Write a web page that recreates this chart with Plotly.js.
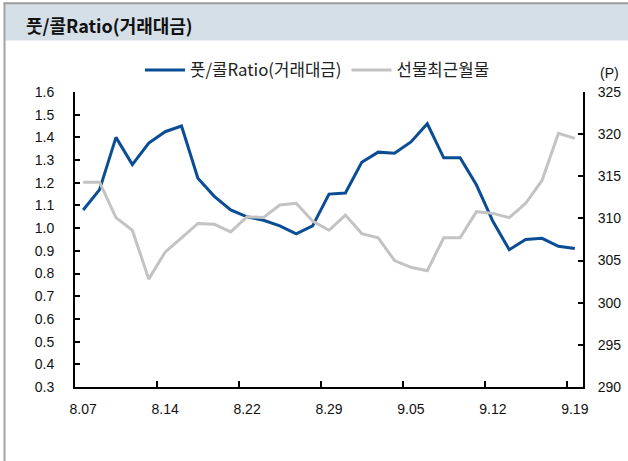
<!DOCTYPE html>
<html>
<head>
<meta charset="utf-8">
<script src="https://cdn.plot.ly/plotly-3.0.1.min.js"></script>
<style>
html,body{margin:0;padding:0;background:#fff;}
#chart{width:628px;height:461px;}
</style>
</head>
<body>
<div id="chart"></div>
<script>
// ---- data ----
const dates = ["8.07","8.08","8.09","8.10","8.11","8.14","8.16","8.17","8.18","8.21",
  "8.22","8.23","8.24","8.25","8.28","8.29","8.30","8.31","9.01","9.04",
  "9.05","9.06","9.07","9.08","9.11","9.12","9.13","9.14","9.15","9.18","9.19"];
const putCallRatio = [1.08,1.17,1.40,1.28,1.375,1.425,1.45,1.22,1.14,1.08,
  1.05,1.035,1.01,0.975,1.01,1.15,1.155,1.29,1.335,1.33,
  1.38,1.46,1.31,1.31,1.19,1.03,0.905,0.95,0.955,0.92,0.91];
const futuresNearMonth = [314.3,314.3,310.1,308.6,302.8,306.0,307.7,309.4,309.3,308.4,
  310.2,310.1,311.6,311.8,309.7,308.6,310.4,308.2,307.7,305.0,
  304.2,303.8,307.7,307.7,310.8,310.6,310.1,311.8,314.5,320.1,319.5];
const tickLabels = ["8.07","8.14","8.22","8.29","9.05","9.12","9.19"];
const seriesNames = ["풋/콜Ratio(거래대금)","선물최근월물"];
const chartTitle = "풋/콜Ratio(거래대금)";
const unitLabel = "(P)";

// ---- geometry helpers (pixels -> paper) ----
const W = 628, H = 461, L = 75, R = 45, T = 92, B = 74;
const PW = W - L - R, PH = H - T - B;
const px = x => (x - L) / PW;
const py = y => (H - B - y) / PH;

const FONT = "Liberation Sans, Arial, Noto Sans CJK KR, sans-serif";
const KFONT = "Noto Sans CJK KR, Liberation Sans, sans-serif";

const traces = [
  {x: dates, y: putCallRatio, name: seriesNames[0], type: "scatter", mode: "lines",
   line: {color: "#0a4d94", width: 3}, yaxis: "y"},
  {x: dates, y: futuresNearMonth, name: seriesNames[1], type: "scatter", mode: "lines",
   line: {color: "#c3c3c3", width: 3}, yaxis: "y2"}
];

const layout = {
  width: W, height: H,
  margin: {l: L, r: R, t: T, b: B},
  paper_bgcolor: "#ffffff", plot_bgcolor: "rgba(0,0,0,0)",
  font: {family: FONT, size: 14, color: "#111"},
  showlegend: true,
  legend: {orientation: "h", x: px(140), xanchor: "left", y: py(70), yanchor: "middle",
    font: {family: KFONT, size: 16.8, color: "#222"}, tracegroupgap: 0, itemwidth: 40,
    bgcolor: "rgba(0,0,0,0)"},
  xaxis: {type: "category", range: [-0.5, dates.length - 0.5],
    tickmode: "array", tickvals: tickLabels, ticktext: tickLabels, tickangle: 0,
    tickson: "boundaries", ticks: "inside", ticklen: 6, tickwidth: 2, tickcolor: "#000",
    showline: true, linecolor: "#000", linewidth: 2, showgrid: false, zeroline: false,
    ticklabelstandoff: 8, tickfont: {family: FONT, size: 14, color: "#111"}, fixedrange: true},
  yaxis: {range: [0.3, 1.6], dtick: 0.1, tick0: 0.3, tickformat: ".1f",
    ticks: "inside", ticklen: 5, tickwidth: 2, tickcolor: "#000",
    showline: true, linecolor: "#000", linewidth: 2, showgrid: false, zeroline: false,
    ticklabelstandoff: 16, tickfont: {family: FONT, size: 14, color: "#111"}, fixedrange: true},
  yaxis2: {range: [290, 325], dtick: 5, tick0: 290, overlaying: "y", side: "right",
    ticks: "inside", ticklen: 5, tickwidth: 2, tickcolor: "#000",
    showline: true, linecolor: "#000", linewidth: 2, showgrid: false, zeroline: false,
    ticklabelstandoff: 10, tickfont: {family: FONT, size: 14, color: "#111"}, fixedrange: true},
  shapes: [
    {type: "rect", xref: "paper", yref: "paper", x0: px(5), x1: px(628), y0: py(40.5), y1: py(3.5),
     fillcolor: "#d5dfe8", line: {width: 0}, layer: "below"},
    {type: "line", xref: "paper", yref: "paper", x0: px(3.5), x1: px(628), y0: py(3.2), y1: py(3.2),
     line: {color: "#9c9c9c", width: 2}},
    {type: "line", xref: "paper", yref: "paper", x0: px(4.5), x1: px(4.5), y0: py(2.5), y1: py(461),
     line: {color: "#a3a3a3", width: 2}}
  ],
  annotations: [
    {text: "<b>" + chartTitle + "</b>", xref: "paper", yref: "paper", x: px(24), y: py(25),
     xanchor: "left", yanchor: "middle", showarrow: false,
     font: {family: KFONT, size: 18, color: "#111"}},
    {text: unitLabel, xref: "paper", yref: "paper", x: px(609), y: py(73),
     xanchor: "center", yanchor: "middle", showarrow: false,
     font: {family: FONT, size: 14, color: "#111"}}
  ]
};

Plotly.newPlot("chart", traces, layout, {displayModeBar: false, staticPlot: true});
</script>
</body>
</html>
